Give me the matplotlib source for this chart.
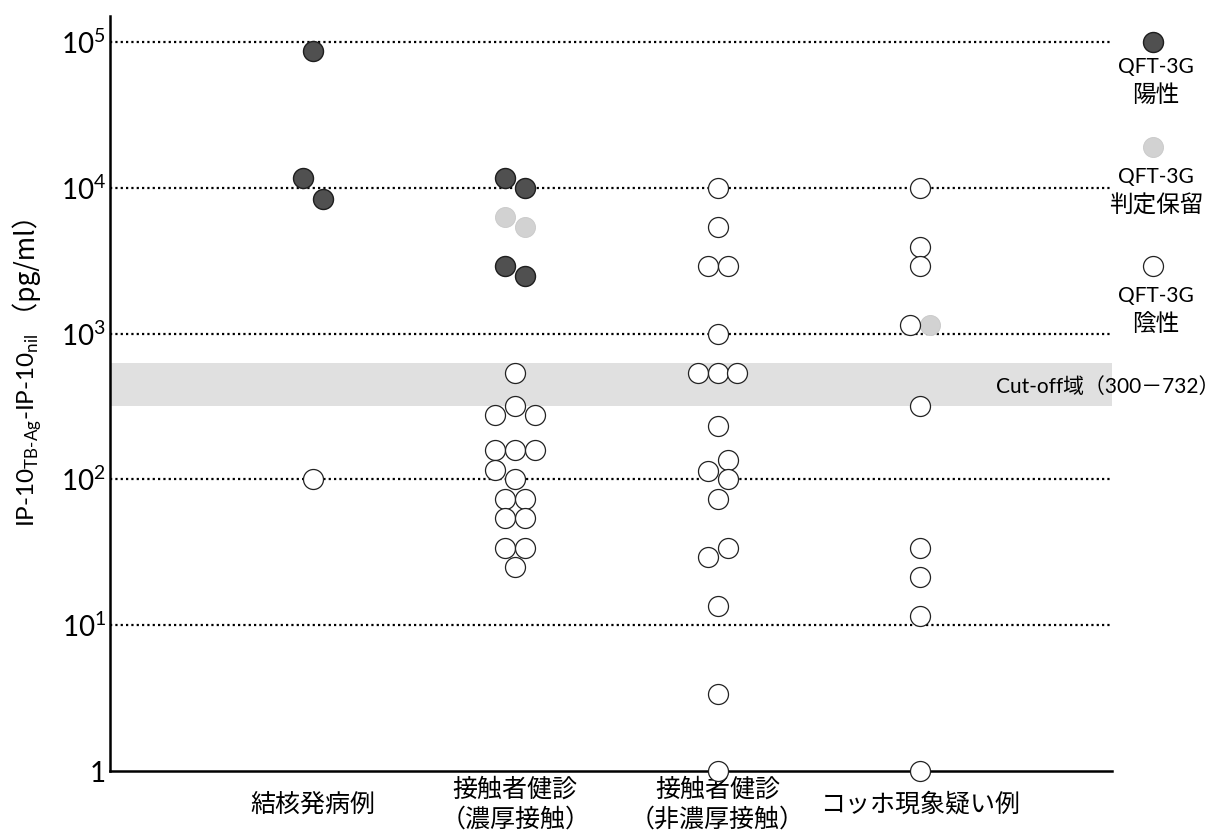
import matplotlib
matplotlib.use("Agg")
import numpy as np
import matplotlib.pyplot as plt

# ─── DATA ────────────────────────────────────────────────────────────────────
CATEGORIES = ["結核発病例", "接触者健診\n（濃厚接触）",
              "接触者健診\n（非濃厚接触）", "コッホ現象疑い例"]

# IP-10 (pg/ml), QFT-3G status: "pos" / "ind" (判定保留) / "neg"
# slot = horizontal position inside the column, in half-marker steps
G1_VALUES = [86700, 11600, 8400, 100]
G1_STATUS = ["pos", "pos", "pos", "neg"]
G1_SLOT   = [0, -1, 1, 0]

G2_VALUES = [11600, 10000, 6300, 5400, 2900, 2500, 535, 320, 275, 275,
             158, 158, 158, 116, 100, 73, 73, 54, 54, 34, 34, 25]
G2_STATUS = ["pos", "pos", "ind", "ind", "pos", "pos"] + ["neg"] * 16
G2_SLOT   = [-1, 1, -1, 1, -1, 1, 0, 0, -2, 2,
             -2, 0, 2, -2, 0, -1, 1, -1, 1, -1, 1, 0]

G3_VALUES = [10000, 5350, 2900, 2900, 1000, 535, 535, 535, 234, 135,
             115, 100, 73.5, 34, 29.4, 13.5, 3.4, 1]
G3_STATUS = ["neg"] * 18
G3_SLOT   = [0, 0, -1, 1, 0, -2, 0, 2, 0, 1, -1, 1, 0, 1, -1, 0, 0, 0]

G4_VALUES = [10000, 3900, 2900, 1150, 1150, 320, 34, 21.4, 11.6, 1]
G4_STATUS = ["neg", "neg", "neg", "neg", "ind", "neg", "neg", "neg", "neg", "neg"]
G4_SLOT   = [0, 0, 0, -1, 1, 0, 0, 0, 0, 0]

GRID_VALUES = [10, 100, 1000, 10000, 100000]
TICK_VALUES = [1, 10, 100, 1000, 10000, 100000]
TICK_LABELS = ["1", r"$\mathregular{10^{1}}$", r"$\mathregular{10^{2}}$",
               r"$\mathregular{10^{3}}$", r"$\mathregular{10^{4}}$",
               r"$\mathregular{10^{5}}$"]
CUTOFF_BAND = (321, 624)   # shaded as drawn in the figure
CUTOFF_TEXT = "Cut-off域（300－732）"

# ─── STYLE ───────────────────────────────────────────────────────────────────
W, H, DPI = 1216, 838, 100
LATIN = ["Lato", "Noto Sans CJK JP"]
CJK   = ["Noto Sans CJK JP", "DejaVu Sans"]
STYLES = {
    "pos": dict(facecolor="#505050", edgecolor="#1e1e1e", linewidths=1.0),
    "ind": dict(facecolor="#d2d2d2", edgecolor="#c8c8c8", linewidths=0.6),
    "neg": dict(facecolor="white", edgecolor="#222222", linewidths=0.9),
}
MS = 14.4 ** 2        # ~20 px marker
SLOT_STEP = 0.0494    # half a marker width in data units

plt.rcParams["font.family"] = LATIN


def px(x, y):
    """pixel position -> figure fraction"""
    return x / W, 1 - y / H


fig = plt.figure(figsize=(W / DPI, H / DPI), dpi=DPI, facecolor="white")
ax = fig.add_axes([110 / W, 1 - 771 / H, 1002 / W, 755 / H])
ax.set_yscale("log")
ax.set_ylim(1, 10 ** 5.178)
ax.set_xlim(-1.003, 3.95)

ax.axhspan(*CUTOFF_BAND, facecolor="#e0e0e0", lw=0, zorder=0)
for v in GRID_VALUES:
    ax.axhline(v, color="black", lw=1.6, ls=(0, (1, 1.4)), zorder=1)

groups = [(G1_VALUES, G1_STATUS, G1_SLOT), (G2_VALUES, G2_STATUS, G2_SLOT),
          (G3_VALUES, G3_STATUS, G3_SLOT), (G4_VALUES, G4_STATUS, G4_SLOT)]
for gi, (vals, stats, slots) in enumerate(groups):
    vals = np.asarray(vals, float)
    xs = gi + np.asarray(slots) * SLOT_STEP
    stats = np.asarray(stats)
    for key, st in STYLES.items():
        m = stats == key
        if m.any():
            ax.scatter(xs[m], vals[m], s=MS, zorder=4, clip_on=False, **st)

for side in ["top", "right"]:
    ax.spines[side].set_visible(False)
for side in ["left", "bottom"]:
    ax.spines[side].set_linewidth(1.8)
    ax.spines[side].set_zorder(3)

ax.set_yticks(TICK_VALUES)
ax.set_yticklabels(TICK_LABELS, fontsize=20, family=LATIN)
ax.yaxis.set_minor_locator(matplotlib.ticker.NullLocator())
ax.tick_params(axis="y", length=0, pad=3)
ax.set_xticks([])

xt = ax.get_xaxis_transform()
for i, lab in enumerate(CATEGORIES):
    ax.text(i, -0.045, lab, transform=xt, ha="center", va="center",
            fontsize=18, family=CJK, linespacing=1.2, multialignment="center")

# y label: latin part with subscripts + CJK unit part
yx, yy = px(35, 334)
fig.text(yx, yy, r"IP-10$_{\mathregular{TB‐Ag}}$-IP-10$_{\mathregular{nil}}$",
         rotation=90, rotation_mode="anchor", ha="right", va="baseline",
         fontsize=17.5, family=LATIN)
fig.text(yx, yy, " （pg/ml）", rotation=90, rotation_mode="anchor",
         ha="left", va="baseline", fontsize=19, family=CJK)

# cut-off label
fig.text(*px(996, 387), CUTOFF_TEXT, ha="left", va="center",
         fontsize=15, family=LATIN)

# legend on the right
legend = [("pos", 42, "陽性", 67, 95),
          ("ind", 147, "判定保留", 177, 206),
          ("neg", 266, "陰性", 296, 325)]
for key, my, jp, qy, jy in legend:
    fx, fy = px(1153, my)
    ax.scatter([fx], [fy], s=MS, transform=fig.transFigure, clip_on=False,
               zorder=5, **STYLES[key])
    fig.text(*px(1156, qy), "QFT-3G", ha="center", va="center",
             fontsize=15, family=LATIN)
    fig.text(*px(1156, jy), jp, ha="center", va="center",
             fontsize=17, family=CJK)

fig.savefig("out.png", dpi=DPI, facecolor="white")
